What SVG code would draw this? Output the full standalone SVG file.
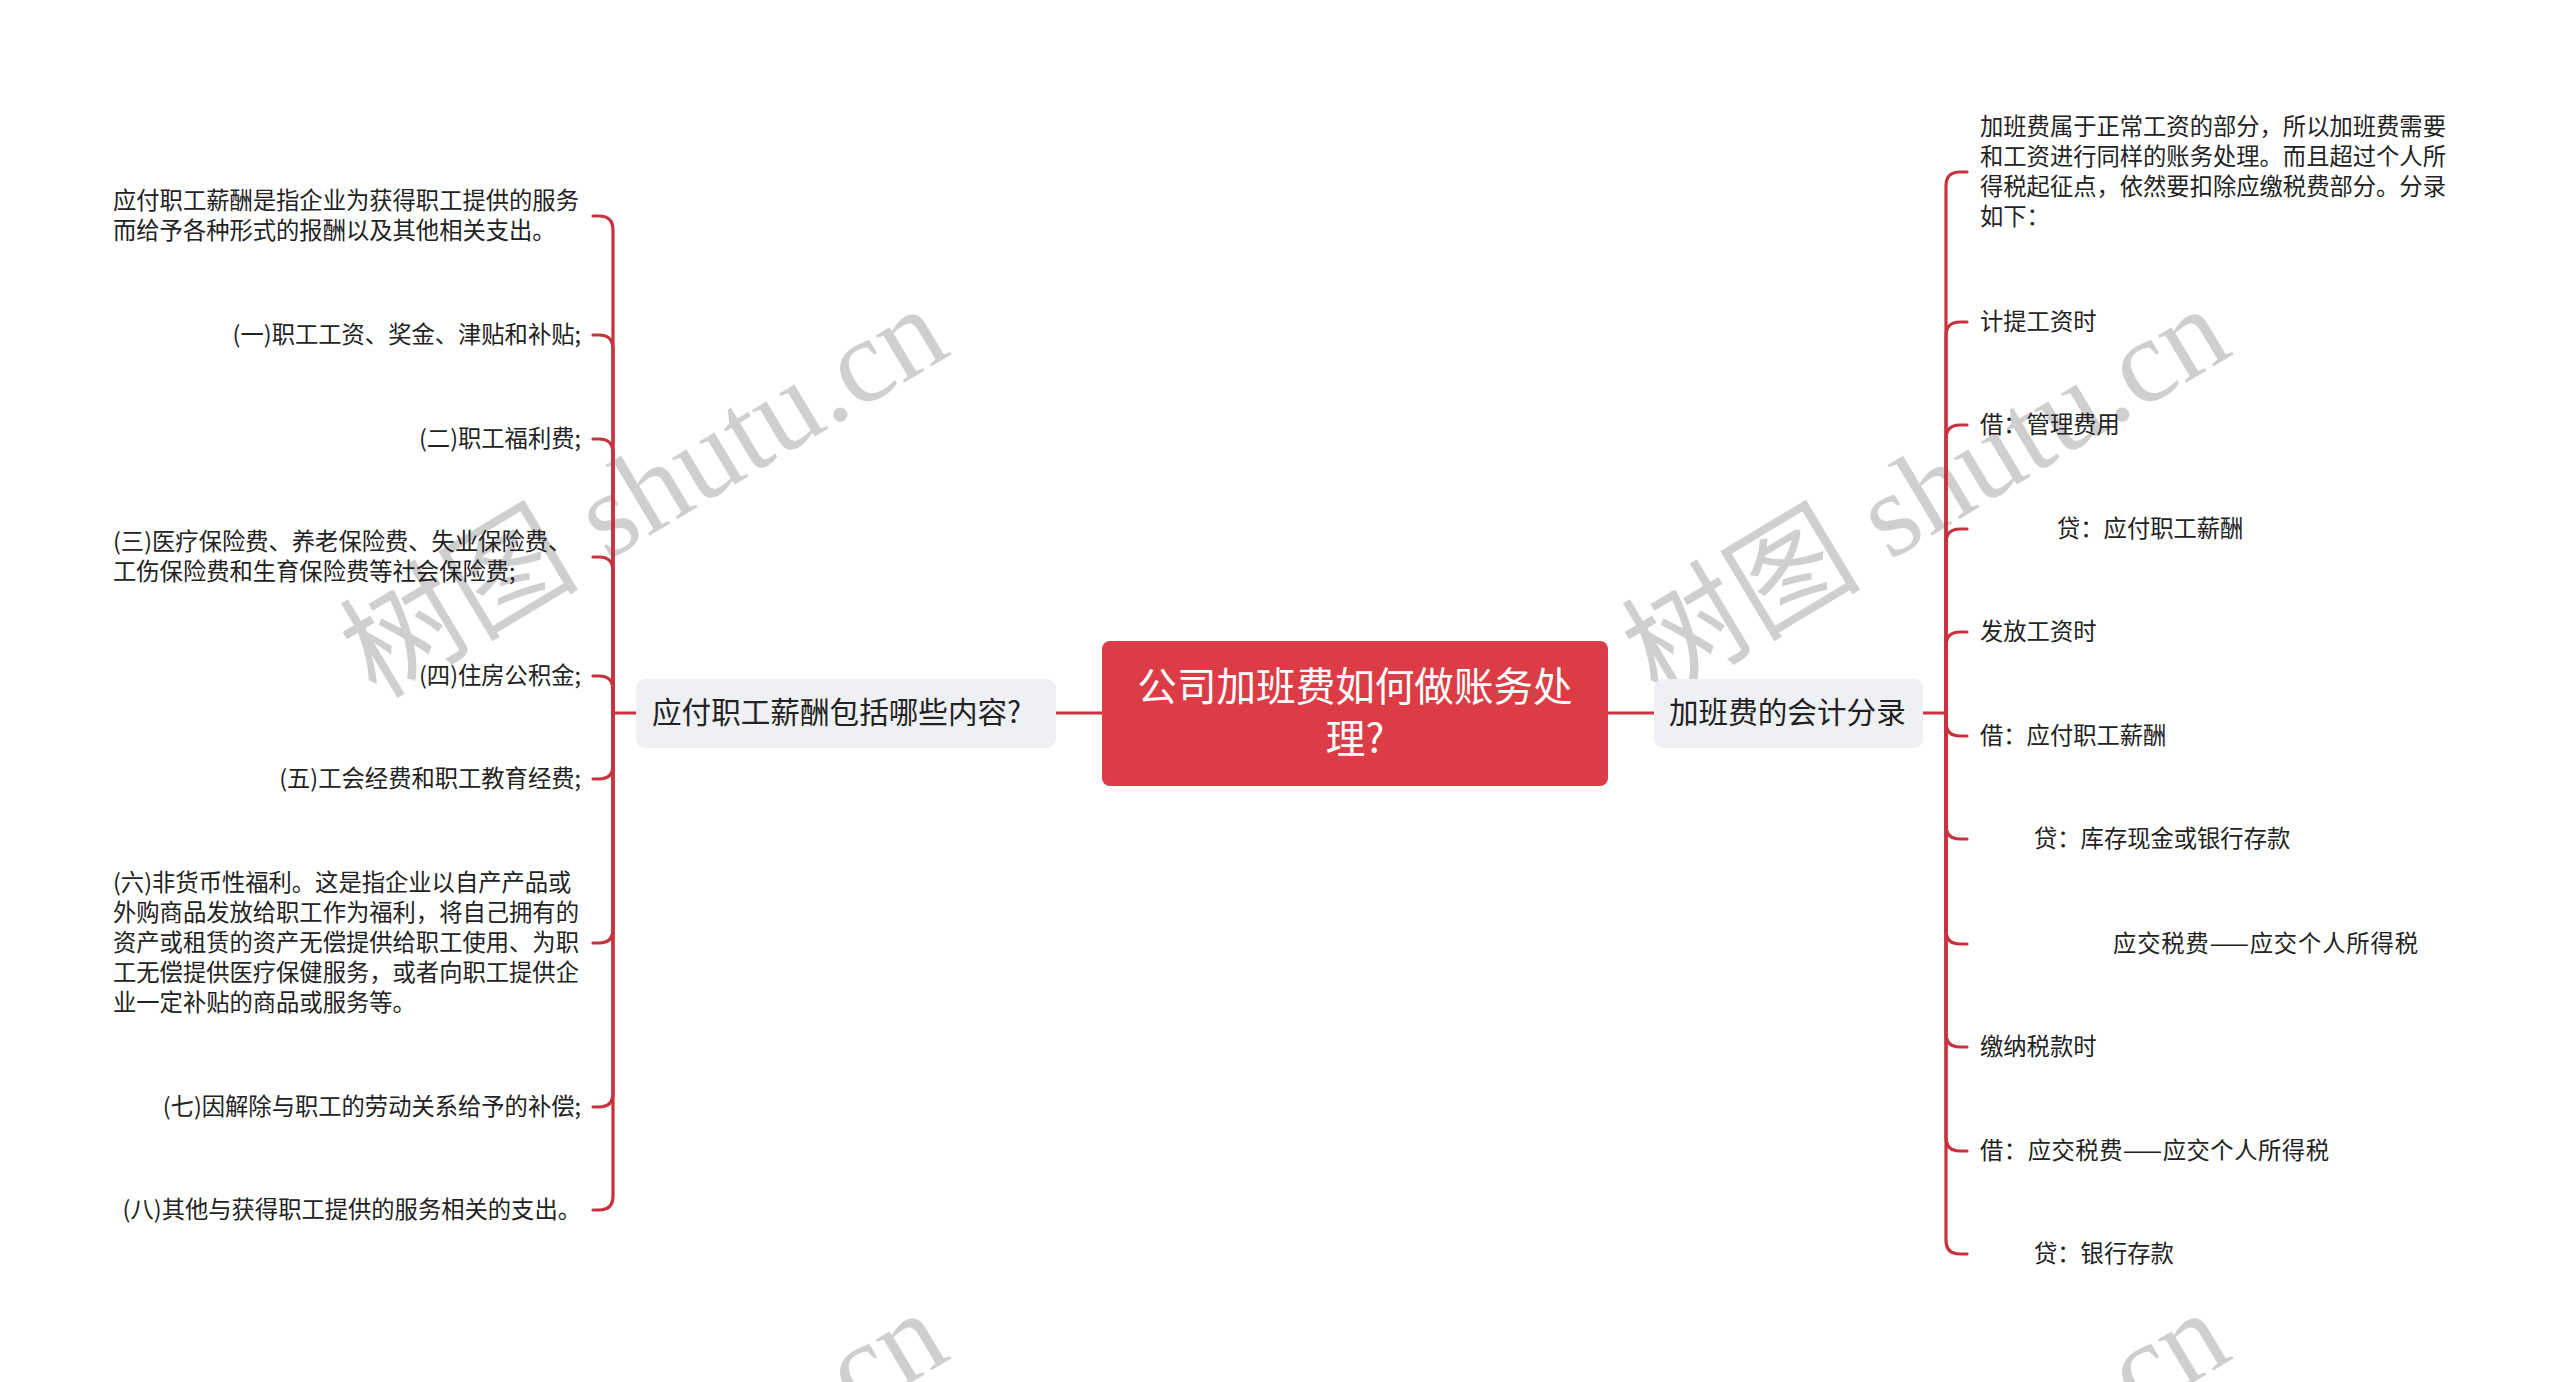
<svg xmlns="http://www.w3.org/2000/svg" width="2560" height="1382" viewBox="0 0 2560 1382">
<style>
.wm{font-family:"Liberation Serif","Noto Sans CJK SC",serif;font-size:120px;fill:#000;fill-opacity:0.19}
.wm .cjk{font-family:"Noto Sans CJK SC",sans-serif}
.conn{fill:none;stroke:#c9323c;stroke-width:3.2;stroke-linecap:round}
.leaf{font-family:"Noto Sans CJK SC","Noto Sans",sans-serif;font-size:23.3px;fill:#222}
.sub{fill:#eef0f3}
.subt{font-family:"Noto Sans CJK SC","Noto Sans",sans-serif;font-size:29.6px;fill:#222}
.root{fill:#dc3c45}
.roott{font-family:"Noto Sans CJK SC","Noto Sans",sans-serif;font-size:39.6px;fill:#fff}
</style>
<rect width="2560" height="1382" fill="#fff"/>
<g id="watermarks">
<text class="wm" transform="translate(376,700) rotate(-31)"><tspan class="cjk">树图</tspan> shutu.cn</text>
<text class="wm" transform="translate(1658,700) rotate(-31)"><tspan class="cjk">树图</tspan> shutu.cn</text>
<text class="wm" transform="translate(376,1704) rotate(-31)"><tspan class="cjk">树图</tspan> shutu.cn</text>
<text class="wm" transform="translate(1658,1704) rotate(-31)"><tspan class="cjk">树图</tspan> shutu.cn</text>
</g>
<g id="connectors">
<path class="conn" d="M1102 713 H1056"/>
<path class="conn" d="M1608 713 H1654"/>
<path class="conn" d="M636 713 H613 V230 Q613 216 599 216 H593"/>
<path class="conn" d="M613 713 V349 Q613 335 599 335 H593"/>
<path class="conn" d="M613 713 V453 Q613 439 599 439 H593"/>
<path class="conn" d="M613 713 V571 Q613 557 599 557 H593"/>
<path class="conn" d="M613 713 V690 Q613 676 599 676 H593"/>
<path class="conn" d="M613 713 V765 Q613 779 599 779 H593"/>
<path class="conn" d="M613 713 V929 Q613 943 599 943 H593"/>
<path class="conn" d="M613 713 V1093 Q613 1107 599 1107 H593"/>
<path class="conn" d="M613 713 V1196 Q613 1210 599 1210 H593"/>
<path class="conn" d="M1923 713 H1946 V186 Q1946 172 1960 172 H1967"/>
<path class="conn" d="M1946 713 V336 Q1946 322 1960 322 H1967"/>
<path class="conn" d="M1946 713 V439 Q1946 425 1960 425 H1967"/>
<path class="conn" d="M1946 713 V543 Q1946 529 1960 529 H1967"/>
<path class="conn" d="M1946 713 V646 Q1946 632 1960 632 H1967"/>
<path class="conn" d="M1946 713 V722 Q1946 736 1960 736 H1967"/>
<path class="conn" d="M1946 713 V825 Q1946 839 1960 839 H1967"/>
<path class="conn" d="M1946 713 V930 Q1946 944 1960 944 H1967"/>
<path class="conn" d="M1946 713 V1033 Q1946 1047 1960 1047 H1967"/>
<path class="conn" d="M1946 713 V1137 Q1946 1151 1960 1151 H1967"/>
<path class="conn" d="M1946 713 V1240 Q1946 1254 1960 1254 H1967"/>
</g>
<g id="root">
<rect class="root" x="1102" y="641" width="506" height="145" rx="8"/>
<text class="roott" x="1355" y="683" text-anchor="middle" dominant-baseline="central">公司加班费如何做账务处</text>
<text class="roott" x="1355" y="735" text-anchor="middle" dominant-baseline="central">理?</text>
</g>
<g id="left-topic">
<rect class="sub" x="636" y="679" width="420" height="69" rx="9"/>
<text class="subt" x="652" y="710" dominant-baseline="central">应付职工薪酬包括哪些内容?</text>
</g>
<g id="right-topic">
<rect class="sub" x="1654" y="679" width="269" height="69" rx="9"/>
<text class="subt" x="1669" y="710" dominant-baseline="central">加班费的会计分录</text>
</g>
<g id="l1"><text class="leaf" x="113" y="199" dominant-baseline="central">应付职工薪酬是指企业为获得职工提供的服务</text><text class="leaf" x="113" y="229" dominant-baseline="central">而给予各种形式的报酬以及其他相关支出。</text></g>
<g id="l2"><text class="leaf" x="581" y="333" text-anchor="end" dominant-baseline="central">(一)职工工资、奖金、津贴和补贴;</text></g>
<g id="l3"><text class="leaf" x="581" y="437" text-anchor="end" dominant-baseline="central">(二)职工福利费;</text></g>
<g id="l4"><text class="leaf" x="113" y="540" dominant-baseline="central">(三)医疗保险费、养老保险费、失业保险费、</text><text class="leaf" x="113" y="570" dominant-baseline="central">工伤保险费和生育保险费等社会保险费;</text></g>
<g id="l5"><text class="leaf" x="581" y="674" text-anchor="end" dominant-baseline="central">(四)住房公积金;</text></g>
<g id="l6"><text class="leaf" x="581" y="777" text-anchor="end" dominant-baseline="central">(五)工会经费和职工教育经费;</text></g>
<g id="l7"><text class="leaf" x="113" y="881" dominant-baseline="central">(六)非货币性福利。这是指企业以自产产品或</text><text class="leaf" x="113" y="911" dominant-baseline="central">外购商品发放给职工作为福利，将自己拥有的</text><text class="leaf" x="113" y="941" dominant-baseline="central">资产或租赁的资产无偿提供给职工使用、为职</text><text class="leaf" x="113" y="971" dominant-baseline="central">工无偿提供医疗保健服务，或者向职工提供企</text><text class="leaf" x="113" y="1001" dominant-baseline="central">业一定补贴的商品或服务等。</text></g>
<g id="l8"><text class="leaf" x="581" y="1105" text-anchor="end" dominant-baseline="central">(七)因解除与职工的劳动关系给予的补偿;</text></g>
<g id="l9"><text class="leaf" x="581" y="1208" text-anchor="end" dominant-baseline="central">(八)其他与获得职工提供的服务相关的支出。</text></g>
<g id="r1"><text class="leaf" x="1980" y="125" dominant-baseline="central">加班费属于正常工资的部分，所以加班费需要</text><text class="leaf" x="1980" y="155" dominant-baseline="central">和工资进行同样的账务处理。而且超过个人所</text><text class="leaf" x="1980" y="185" dominant-baseline="central">得税起征点，依然要扣除应缴税费部分。分录</text><text class="leaf" x="1980" y="215" dominant-baseline="central">如下：</text></g>
<g id="r2"><text class="leaf" x="1980" y="320" dominant-baseline="central">计提工资时</text></g>
<g id="r3"><text class="leaf" x="1980" y="423" dominant-baseline="central">借：管理费用</text></g>
<g id="r4"><text class="leaf" x="2057" y="527" dominant-baseline="central">贷：应付职工薪酬</text></g>
<g id="r5"><text class="leaf" x="1980" y="630" dominant-baseline="central">发放工资时</text></g>
<g id="r6"><text class="leaf" x="1980" y="734" dominant-baseline="central">借：应付职工薪酬</text></g>
<g id="r7"><text class="leaf" x="2034" y="837" dominant-baseline="central">贷：库存现金或银行存款</text></g>
<g id="r8"><text class="leaf" x="2113" y="942" dominant-baseline="central" textLength="305">应交税费——应交个人所得税</text></g>
<g id="r9"><text class="leaf" x="1980" y="1045" dominant-baseline="central">缴纳税款时</text></g>
<g id="r10"><text class="leaf" x="1980" y="1149" dominant-baseline="central" textLength="349">借：应交税费——应交个人所得税</text></g>
<g id="r11"><text class="leaf" x="2034" y="1252" dominant-baseline="central">贷：银行存款</text></g>
</svg>
